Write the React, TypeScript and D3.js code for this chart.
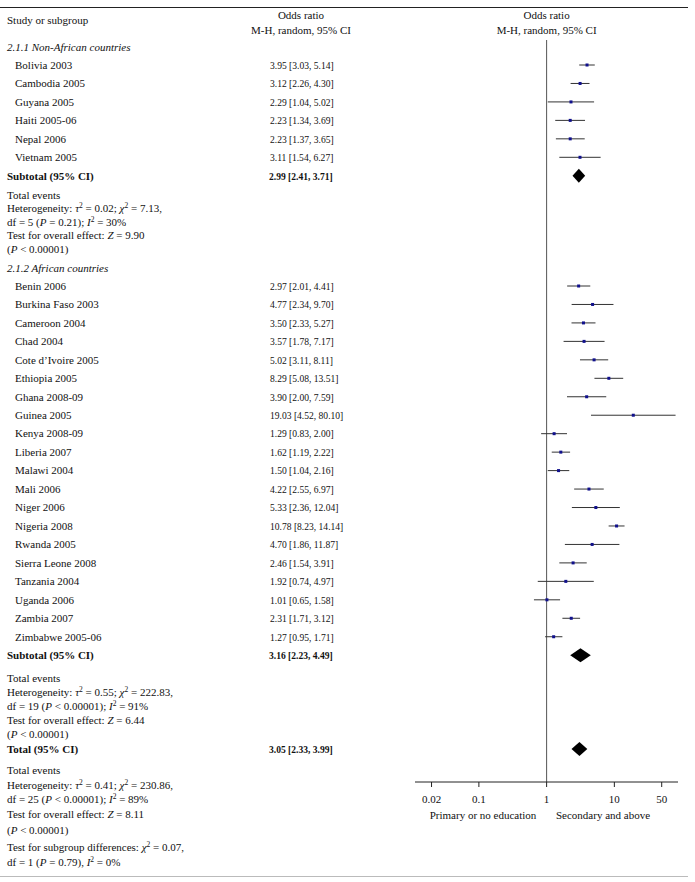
import React from "react";
import * as d3 from "d3";

const nonAfricanStudies = ["Bolivia 2003", "Cambodia 2005", "Guyana 2005", "Haiti 2005-06", "Nepal 2006", "Vietnam 2005"];
const nonAfricanOR = [3.95, 3.12, 2.29, 2.23, 2.23, 3.11];
const nonAfricanLo = [3.03, 2.26, 1.04, 1.34, 1.37, 1.54];
const nonAfricanHi = [5.14, 4.30, 5.02, 3.69, 3.65, 6.27];

const africanStudies = [
  "Benin 2006", "Burkina Faso 2003", "Cameroon 2004", "Chad 2004", "Cote d\u2019Ivoire 2005",
  "Ethiopia 2005", "Ghana 2008-09", "Guinea 2005", "Kenya 2008-09", "Liberia 2007",
  "Malawi 2004", "Mali 2006", "Niger 2006", "Nigeria 2008", "Rwanda 2005",
  "Sierra Leone 2008", "Tanzania 2004", "Uganda 2006", "Zambia 2007", "Zimbabwe 2005-06",
];
const africanOR = [2.97, 4.77, 3.50, 3.57, 5.02, 8.29, 3.90, 19.03, 1.29, 1.62, 1.50, 4.22, 5.33, 10.78, 4.70, 2.46, 1.92, 1.01, 2.31, 1.27];
const africanLo = [2.01, 2.34, 2.33, 1.78, 3.11, 5.08, 2.00, 4.52, 0.83, 1.19, 1.04, 2.55, 2.36, 8.23, 1.86, 1.54, 0.74, 0.65, 1.71, 0.95];
const africanHi = [4.41, 9.70, 5.27, 7.17, 8.11, 13.51, 7.59, 80.10, 2.00, 2.22, 2.16, 6.97, 12.04, 14.14, 11.87, 3.91, 4.97, 1.58, 3.12, 1.71];

const subtotalNonAfrican = [2.99, 2.41, 3.71];
const subtotalAfrican = [3.16, 2.23, 4.49];
const totalAll = [3.05, 2.33, 3.99];

const axisTicks = [0.02, 0.1, 1, 10, 50];
const axisExtent = [0.0114, 87];

const stats1 = [
  "Total events",
  "Heterogeneity: {\u03c4}^2 = 0.02; {\u03c7}^2 = 7.13,",
  "df = 5 ({P} = 0.21); {I}^2 = 30%",
  "Test for overall effect: {Z} = 9.90",
  "({P} < 0.00001)",
];
const stats2 = [
  "Total events",
  "Heterogeneity: {\u03c4}^2 = 0.55; {\u03c7}^2 = 222.83,",
  "df = 19 ({P} < 0.00001); {I}^2 = 91%",
  "Test for overall effect: {Z} = 6.44",
  "({P} < 0.00001)",
];
const stats3 = [
  "Total events",
  "Heterogeneity: {\u03c4}^2 = 0.41; {\u03c7}^2 = 230.86,",
  "df = 25 ({P} < 0.00001); {I}^2 = 89%",
  "Test for overall effect: {Z} = 8.11",
  "({P} < 0.00001)",
  "Test for subgroup differences: {\u03c7}^2 = 0.07,",
  "df = 1 ({P} = 0.79), {I}^2 = 0%",
];

const FONT = "'Liberation Serif', 'Times New Roman', serif";
const FS = 11;
const W = 695;
const H = 882;
const NUM_SX = 0.87;

type Seg = { t: string; it: boolean; sup: boolean };
function parse(s: string): Seg[] {
  const out: Seg[] = [];
  let it = false;
  let buf = "";
  const flush = () => {
    if (buf) out.push({ t: buf, it, sup: false });
    buf = "";
  };
  for (let i = 0; i < s.length; i++) {
    const c = s[i];
    if (c === "{") { flush(); it = true; }
    else if (c === "}") { flush(); it = false; }
    else if (c === "^") { flush(); out.push({ t: s[i + 1], it: false, sup: true }); i++; }
    else buf += c;
  }
  flush();
  return out;
}

function RichText({ x, y, s }: { x: number; y: number; s: string }) {
  const segs = parse(s);
  const nodes: React.ReactNode[] = [];
  let prevSup = false;
  segs.forEach((g, i) => {
    let dy = 0;
    if (g.sup && !prevSup) dy = -4;
    else if (!g.sup && prevSup) dy = 4;
    nodes.push(
      <tspan key={i} dy={dy || undefined} fontStyle={g.it ? "italic" : undefined} fontSize={g.sup ? 7.5 : undefined}>
        {g.t}
      </tspan>
    );
    prevSup = g.sup;
  });
  return (
    <text x={x} y={y} fontFamily={FONT} fontSize={FS} fill="#111" style={{ whiteSpace: "pre" }}>
      {nodes}
    </text>
  );
}

function NumText({ x, y, s, bold }: { x: number; y: number; s: string; bold?: boolean }) {
  return (
    <text transform={`translate(${x},${y}) scale(${NUM_SX},1)`} fontFamily={FONT} fontSize={FS} fontWeight={bold ? "bold" : undefined} fill="#111">
      {s}
    </text>
  );
}

const ciLabel = (v: number, lo: number, hi: number) => `${v.toFixed(2)} [${lo.toFixed(2)}, ${hi.toFixed(2)}]`;

export default function App() {
  const x = d3.scaleLog().domain(axisExtent).range([415, 678]);
  const x1 = x(1);
  const ROW = 18.46;
  const TB = 3.8;
  const COLX = 270;

  const rows1 = nonAfricanStudies.map((name, i) => ({ name, v: nonAfricanOR[i], lo: nonAfricanLo[i], hi: nonAfricanHi[i], y: 65 + i * ROW }));
  const rows2 = africanStudies.map((name, i) => ({ name, v: africanOR[i], lo: africanLo[i], hi: africanHi[i], y: 286 + i * ROW }));
  const sub1Y = 65 + 6 * ROW;
  const sub2Y = 286 + 20 * ROW;
  const totY = 749;

  const stats1Y = [194.7, 208.5, 221.7, 234.9, 248.7];
  const stats2Y = [678, 692.5, 706.2, 720.2, 733.8];
  const stats3Y = [770, 785, 799.5, 814, 830.5, 847, 862.5];

  const axisY = 782;

  const diamond = (d: number[], y: number) => {
    const [v, lo, hi] = d;
    const h = 7;
    return `M${x(lo)},${y} L${x(v)},${y - h} L${x(hi)},${y} L${x(v)},${y + h} Z`;
  };

  const studyRow = (r: { name: string; v: number; lo: number; hi: number; y: number }, key: string) => (
    <g key={key}>
      <text x={15} y={r.y + TB} fontFamily={FONT} fontSize={FS} fill="#111">{r.name}</text>
      <NumText x={COLX} y={r.y + TB} s={ciLabel(r.v, r.lo, r.hi)} />
      <line x1={x(r.lo)} x2={x(r.hi)} y1={r.y} y2={r.y} stroke="#333" strokeWidth={1} />
      <rect x={x(r.v) - 1.5} y={r.y - 1.5} width={3} height={3} fill="#10108c" />
    </g>
  );

  return (
    <svg width={W} height={H} style={{ position: "absolute", left: 0, top: 0 }} xmlns="http://www.w3.org/2000/svg">
      <rect width={W} height={H} fill="#fff" />
      <line x1={0} x2={688} y1={7.5} y2={7.5} stroke="#222" strokeWidth={1} />
      <line x1={0} x2={688} y1={876.5} y2={876.5} stroke="#bbb" strokeWidth={1} />

      <text x={7} y={20 + TB} fontFamily={FONT} fontSize={FS} fill="#111">Study or subgroup</text>
      <text x={301} y={15 + TB} fontFamily={FONT} fontSize={FS} fill="#111" textAnchor="middle">Odds ratio</text>
      <text x={301} y={30 + TB} fontFamily={FONT} fontSize={FS} fill="#111" textAnchor="middle">M-H, random, 95% CI</text>
      <text x={x1} y={15 + TB} fontFamily={FONT} fontSize={FS} fill="#111" textAnchor="middle">Odds ratio</text>
      <text x={x1} y={30 + TB} fontFamily={FONT} fontSize={FS} fill="#111" textAnchor="middle">M-H, random, 95% CI</text>

      <line x1={x1} x2={x1} y1={40} y2={axisY} stroke="#555" strokeWidth={1} />

      <text x={7} y={47 + TB} fontFamily={FONT} fontSize={FS} fontStyle="italic" fill="#111">2.1.1 Non-African countries</text>
      {rows1.map((r, i) => studyRow(r, "a" + i))}
      <text x={7} y={sub1Y + TB} fontFamily={FONT} fontSize={FS} fontWeight="bold" fill="#111">Subtotal (95% CI)</text>
      <NumText x={COLX - 1} y={sub1Y + TB} bold s={ciLabel(subtotalNonAfrican[0], subtotalNonAfrican[1], subtotalNonAfrican[2])} />
      <path d={diamond(subtotalNonAfrican, sub1Y)} fill="#000" />
      {stats1.map((s, i) => <RichText key={"s1" + i} x={7} y={stats1Y[i] + TB} s={s} />)}

      <text x={7} y={268 + TB} fontFamily={FONT} fontSize={FS} fontStyle="italic" fill="#111">2.1.2 African countries</text>
      {rows2.map((r, i) => studyRow(r, "b" + i))}
      <text x={7} y={sub2Y + TB} fontFamily={FONT} fontSize={FS} fontWeight="bold" fill="#111">Subtotal (95% CI)</text>
      <NumText x={COLX - 1} y={sub2Y + TB} bold s={ciLabel(subtotalAfrican[0], subtotalAfrican[1], subtotalAfrican[2])} />
      <path d={diamond(subtotalAfrican, sub2Y)} fill="#000" />
      {stats2.map((s, i) => <RichText key={"s2" + i} x={7} y={stats2Y[i] + TB} s={s} />)}

      <text x={7} y={totY + TB} fontFamily={FONT} fontSize={FS} fontWeight="bold" fill="#111">Total (95% CI)</text>
      <NumText x={COLX - 1} y={totY + TB} bold s={ciLabel(totalAll[0], totalAll[1], totalAll[2])} />
      <path d={diamond(totalAll, totY)} fill="#000" />
      {stats3.map((s, i) => <RichText key={"s3" + i} x={7} y={stats3Y[i] + TB} s={s} />)}

      <line x1={x(axisExtent[0])} x2={x(axisExtent[1])} y1={axisY} y2={axisY} stroke="#222" strokeWidth={1} />
      {axisTicks.map((t) => (
        <g key={t}>
          <line x1={x(t)} x2={x(t)} y1={axisY} y2={axisY + 5} stroke="#222" strokeWidth={1} />
          <text x={x(t)} y={799 + TB} fontFamily={FONT} fontSize={FS} fill="#111" textAnchor="middle">{String(t)}</text>
        </g>
      ))}
      <text x={483} y={815 + TB} fontFamily={FONT} fontSize={FS} fill="#111" textAnchor="middle">Primary or no education</text>
      <text x={603} y={815 + TB} fontFamily={FONT} fontSize={FS} fill="#111" textAnchor="middle">Secondary and above</text>
    </svg>
  );
}
